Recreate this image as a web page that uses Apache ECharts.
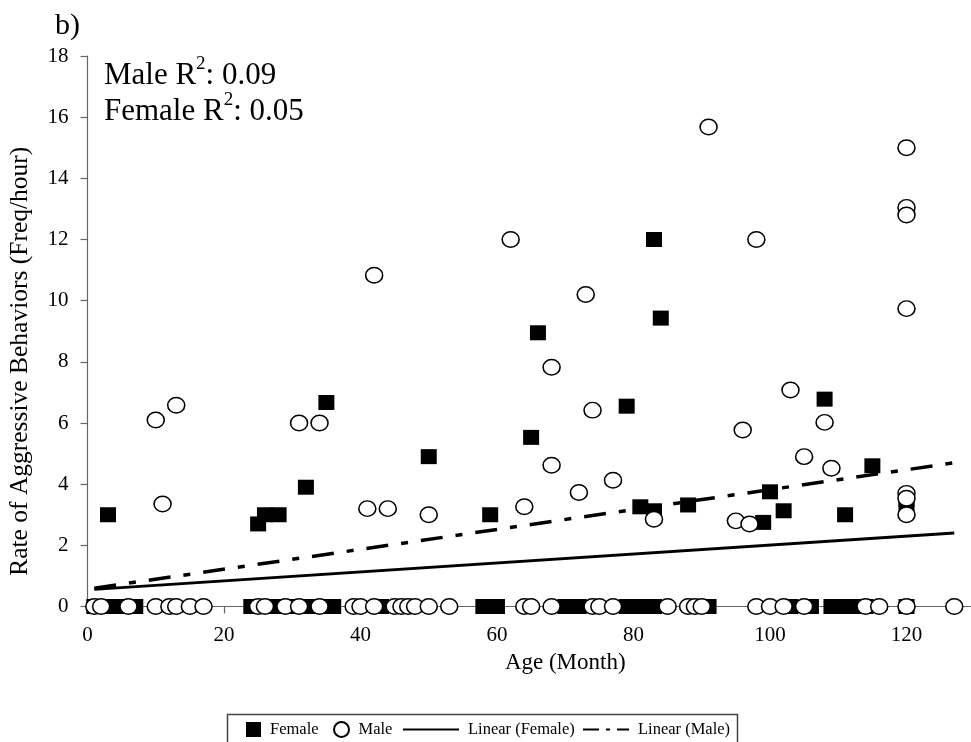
<!DOCTYPE html>
<html>
<head>
<meta charset="utf-8">
<script src="https://cdn.jsdelivr.net/npm/echarts@6/dist/echarts.min.js"></script>
<style>
  html, body { margin: 0; padding: 0; background: #fff; }
  #chart { width: 971px; height: 742px; }
</style>
</head>
<body>
<div id="chart"></div>
<script>
// Age (months) and aggression rate (freq/hour) per individual
const femaleAge = [3, 25, 26, 28, 32, 35, 50, 59, 65, 66, 79, 83, 84, 81, 83, 108, 115, 100, 88, 102, 99, 111, 120, 120,
  1, 3, 5, 7, 24, 26, 28, 30, 32, 34, 36, 43, 58, 60, 70, 71, 72, 79, 80, 81, 82, 83, 90, 91, 103, 106, 109, 110, 111, 113, 114, 120];
const femaleRate = [3.0, 2.7, 3.0, 3.0, 3.9, 6.67, 4.9, 3.0, 5.53, 8.95, 6.55, 12.0, 9.43, 3.26, 3.13, 6.78, 4.6, 3.75, 3.32, 3.13, 2.75, 3.0, 3.5, 3.3,
  0, 0, 0, 0, 0, 0, 0, 0, 0, 0, 0, 0, 0, 0, 0, 0, 0, 0, 0, 0, 0, 0, 0, 0, 0, 0, 0, 0, 0, 0, 0, 0];

const maleAge = [10, 13, 11, 31, 34, 41, 44, 42, 62, 73, 68, 74, 68, 77, 72, 64, 50, 83, 91, 120, 120, 120, 98, 120, 103, 108, 96, 105, 109, 120, 120, 120, 95, 97,
  1, 2, 6, 10, 12, 13, 15, 17, 25, 26, 29, 31, 34, 39, 40, 42, 45, 46, 47, 48, 50, 53, 64, 65, 68, 74, 75, 77, 85, 88, 89, 90, 98, 100, 102, 105, 114, 116, 120, 127];
const maleRate = [6.1, 6.58, 3.35, 6.0, 6.0, 3.2, 3.2, 10.83, 12.0, 10.2, 7.82, 6.42, 4.62, 4.13, 3.73, 3.26, 3.0, 2.85, 15.68, 15.0, 13.05, 12.8, 12.0, 9.74, 7.08, 6.02, 5.77, 4.9, 4.52, 3.7, 3.54, 3.0, 2.8, 2.7,
  0, 0, 0, 0, 0, 0, 0, 0, 0, 0, 0, 0, 0, 0, 0, 0, 0, 0, 0, 0, 0, 0, 0, 0, 0, 0, 0, 0, 0, 0, 0, 0, 0, 0, 0, 0, 0, 0, 0, 0];

// Linear trend lines (end points of the fitted lines)
const trendAge = [1, 127];
const trendFemale = [0.56, 2.4];
const trendMale = [0.6, 4.7];

const zip = (xs, ys) => xs.map((x, i) => [x, ys[i]]);

const FONT = '"Liberation Serif", "Times New Roman", serif';
const AXIS_COLOR = '#666';

const chart = echarts.init(document.getElementById('chart'));

const legendBase = {
  top: 721,
  padding: 0,
  itemHeight: 15,
  textStyle: { fontFamily: FONT, fontSize: 16.5, color: '#000', padding: [0, 0, 0, 4] },
  selectedMode: false
};

chart.setOption({
  animation: false,
  backgroundColor: '#fff',
  title: [
    {
      text: 'b)', left: 50, top: 6,
      textStyle: { fontFamily: FONT, fontSize: 30, fontWeight: 'normal', color: '#000' }
    },
    {
      text: '{n|Male R}{s|2}{n|: 0.09}\n{n|Female R}{s|2}{n|: 0.05}',
      left: 99, top: 50,
      textStyle: {
        fontFamily: FONT, fontWeight: 'normal', color: '#000',
        rich: {
          n: { fontFamily: FONT, fontSize: 31, color: '#000', lineHeight: 36, verticalAlign: 'bottom' },
          s: { fontFamily: FONT, fontSize: 19, color: '#000', lineHeight: 36, verticalAlign: 'top', padding: [0, 0, 7, 0] }
        }
      }
    }
  ],
  grid: { left: 87.5, top: 56, width: 955.5, height: 550.5, containLabel: false, outerBoundsMode: 'none' },
  xAxis: {
    type: 'value', min: 0, max: 140, interval: 20,
    name: 'Age (Month)', nameLocation: 'middle', nameGap: 45,
    nameTextStyle: { fontFamily: FONT, fontSize: 23, color: '#000' },
    axisLine: { show: true, onZero: false, lineStyle: { color: AXIS_COLOR, width: 1.2 } },
    axisTick: { show: true, inside: false, length: 7, lineStyle: { color: AXIS_COLOR, width: 1.2 } },
    axisLabel: { fontFamily: FONT, fontSize: 21, color: '#000', margin: 18 },
    splitLine: { show: false }
  },
  yAxis: {
    type: 'value', min: 0, max: 18, interval: 2,
    name: 'Rate of Aggressive Behaviors (Freq/hour)', nameLocation: 'middle', nameGap: 54,
    nameTextStyle: { fontFamily: FONT, fontSize: 25.5, color: '#000', padding: [0, 60, 0, 0] },
    axisLine: { show: true, lineStyle: { color: AXIS_COLOR, width: 1.2 } },
    axisTick: { show: true, inside: false, length: 7, lineStyle: { color: AXIS_COLOR, width: 1.2 } },
    axisLabel: { fontFamily: FONT, fontSize: 21, color: '#000', margin: 19 },
    splitLine: { show: false }
  },
  legend: [
    Object.assign({}, legendBase, { left: 246, itemWidth: 15, data: [{ name: 'Female', icon: 'rect' }] }),
    Object.assign({}, legendBase, { left: 333, itemWidth: 16, data: [{ name: 'Male', icon: 'circle' }] }),
    Object.assign({}, legendBase, { left: 402, itemWidth: 56, itemStyle: { opacity: 0 }, data: ['Linear (Female)'] }),
    Object.assign({}, legendBase, {
      left: 582, itemWidth: 46, itemStyle: { opacity: 0 },
      lineStyle: { type: [16, 7, 4, 7] },
      data: ['Linear (Male)']
    })
  ],
  graphic: [
    {
      type: 'rect', left: 225, top: 712, silent: true,
      shape: { width: 510, height: 60 },
      style: { fill: 'none', stroke: '#444', lineWidth: 1.5 }
    }
  ],
  series: [
    {
      name: 'Female', type: 'scatter', clip: false,
      symbol: 'rect', symbolSize: [16, 15],
      itemStyle: { color: '#000', borderColor: '#000', borderWidth: 0, opacity: 1 },
      data: zip(femaleAge, femaleRate), z: 3
    },
    {
      name: 'Male', type: 'scatter', clip: false,
      symbol: 'circle', symbolSize: [17, 15.5],
      itemStyle: { color: '#fff', borderColor: '#000', borderWidth: 1.5, opacity: 1 },
      data: zip(maleAge, maleRate), z: 4
    },
    {
      name: 'Linear (Female)', type: 'line', symbol: 'none', clip: false,
      lineStyle: { color: '#000', width: 3, type: 'solid' },
      itemStyle: { color: '#000' },
      data: zip(trendAge, trendFemale), z: 5
    },
    {
      name: 'Linear (Male)', type: 'line', symbol: 'none', clip: false,
      lineStyle: { color: '#000', width: 3.5, type: [22, 13, 7, 13], cap: 'butt' },
      itemStyle: { color: '#000' },
      data: zip(trendAge, trendMale), z: 5
    }
  ]
});
</script>
</body>
</html>
